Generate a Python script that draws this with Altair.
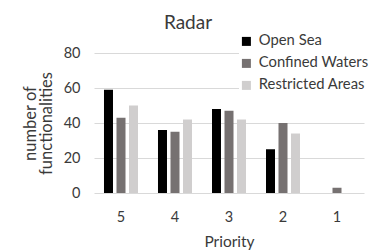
import altair as alt
import pandas as pd

priorities = ["5", "4", "3", "2", "1"]
series = ["Open Sea", "Confined Waters", "Restricted Areas"]
open_sea = [59, 36, 48, 25, 0]
confined = [43, 35, 47, 40, 3]
restricted = [50, 42, 42, 34, 0]
colors = ["#000000", "#767171", "#d0cece"]

rows = []
for s, vals in zip(series, [open_sea, confined, restricted]):
    for p, v in zip(priorities, vals):
        rows.append({"Priority": p, "Series": s, "Value": v})
df = pd.DataFrame(rows)

FONT = "Lato"
TXT = "#3a3a3a"

chart = alt.Chart(df).mark_bar().encode(
    x=alt.X("Priority:N", sort=priorities,
            scale=alt.Scale(paddingInner=0.37, paddingOuter=0.185),
            axis=alt.Axis(title="Priority", labelAngle=0, ticks=False, domain=False,
                          labelPadding=17, titlePadding=11, labelFontSize=14.5,
                          titleFontSize=15.5, titleFontWeight="normal",
                          labelColor=TXT, titleColor=TXT, labelFont=FONT, titleFont=FONT)),
    xOffset=alt.XOffset("Series:N", sort=series,
                        scale=alt.Scale(paddingInner=0.28, paddingOuter=0)),
    y=alt.Y("Value:Q", scale=alt.Scale(domain=[0, 80]),
            axis=alt.Axis(values=[0, 20, 40, 60, 80], title=["number of", "functionalities"],
                          ticks=False, domain=False, grid=True, gridColor="#d9d9d9",
                          labelPadding=14, titlePadding=9, labelFontSize=14.5,
                          titleFontSize=16.5, titleFontWeight="normal", titleLineHeight=16,
                          labelColor=TXT, titleColor=TXT, labelFont=FONT, titleFont=FONT)),
    color=alt.Color("Series:N", sort=series,
                    scale=alt.Scale(domain=series, range=colors),
                    legend=alt.Legend(title=None, orient="none", legendX=145, legendY=-19,
                                      symbolType="square", symbolSize=81,
                                      symbolStrokeWidth=0, labelFontSize=14.8,
                                      labelFont=FONT, labelColor=TXT, rowPadding=6,
                                      labelOffset=5, labelLimit=200,
                                      fillColor="white")),
).properties(
    width=270, height=140,
    title=alt.TitleParams("Radar", fontSize=19, font=FONT, fontWeight="normal",
                          color=TXT, dx=-41, offset=1, anchor="middle"),
    autosize=alt.AutoSizeParams(type="none"),
    padding={"left": 86, "top": 45, "right": 8, "bottom": 59},
).configure_view(stroke=None)

chart.save("out.html", embed_options={"renderer": "svg", "actions": False})
